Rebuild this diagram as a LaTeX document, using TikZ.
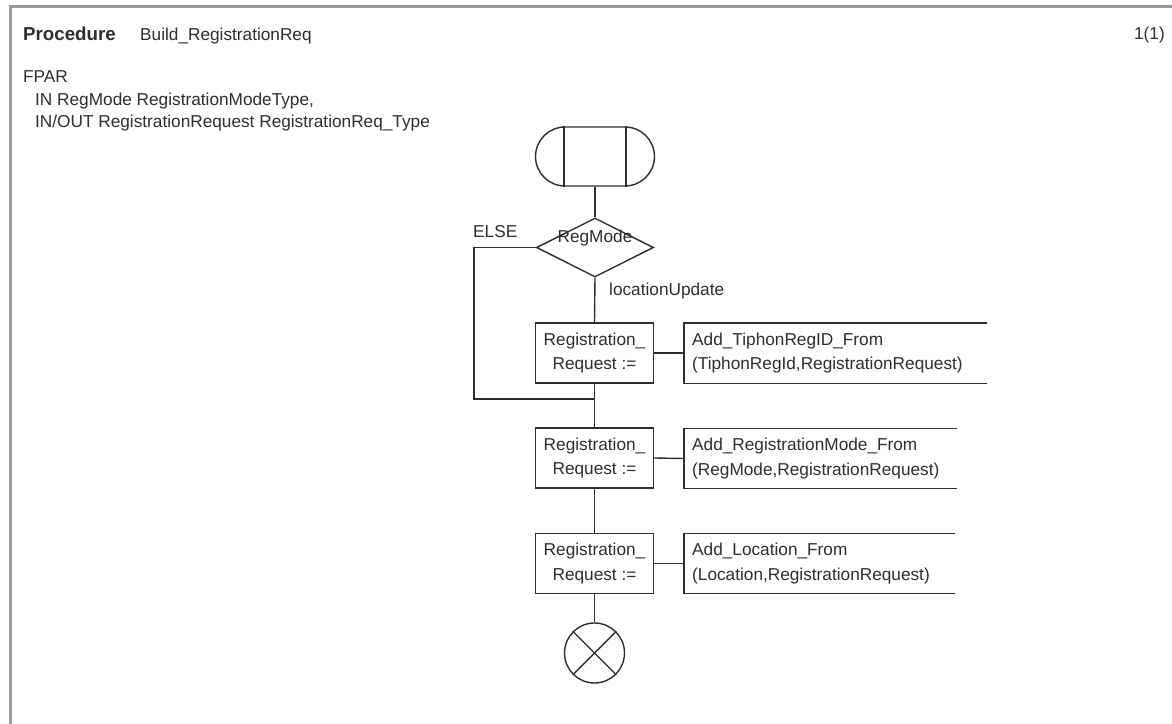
\documentclass[tikz,border=0pt]{standalone}
\usepackage{fontspec}
\setmainfont{Liberation Sans}
\usetikzlibrary{shapes.geometric,shapes.misc}
\definecolor{ink}{HTML}{2E2E2E}
\definecolor{frame}{HTML}{9A9A9A}
\tikzset{
  every node/.style={font=\fontsize{17.3}{25}\selectfont, text=ink},
  flow/.style={draw=ink, line width=1.4bp},
  txt/.style={inner sep=0pt, anchor=base west},
  taskbox/.style={flow, rectangle, minimum width=118bp, minimum height=60bp,
    inner sep=0pt, align=center},
  note/.style={rectangle, anchor=west, inner xsep=8bp, inner ysep=0pt,
    minimum height=60bp, align=left},
  conn/.style={draw=ink, line width=1.4bp},
}
\begin{document}
\begin{tikzpicture}[x=1bp, y=-1bp]
\useasboundingbox (0,0) rectangle (1172,724);
\fill[white] (0,0) rectangle (1172,724);
\clip (0,0) rectangle (1172,724);

% page frame
\draw[frame, line width=3bp] (10,740) -- (10,7) -- (1190,7);

% heading
\node[txt, font=\fontsize{18.8}{22}\selectfont\bfseries] (kw) at (23,41) {Procedure};
\node[txt] (pname) at (140,41) {Build\_RegistrationReq};
\node[txt, anchor=base east] (page) at (1165,40) {1(1)};
\node[txt] (fpar) at (23,83) {FPAR};
\node[txt] (p1) at (35,106) {IN RegMode RegistrationModeType,};
\node[txt] (p2) at (35,128) {IN/OUT RegistrationRequest RegistrationReq\_Type};

% procedure start
\node[flow, rounded rectangle, minimum width=119bp, minimum height=59bp, inner sep=0pt] (start) at (595,156.5) {};
\draw[conn] ([xshift=-31bp]start.north) -- ([xshift=-31bp]start.south);
\draw[conn] ([xshift=31bp]start.north) -- ([xshift=31bp]start.south);

% decision
\node[flow, diamond, aspect=2, minimum width=117bp, minimum height=59bp, inner sep=0pt] (dec) at (595,247.5) {};
\node[inner sep=0pt] (declbl) at (595,238) {RegMode};
\node[txt] (elselbl) at (473,237) {ELSE};
\node[txt] (lulbl) at (609,295) {locationUpdate};

% tasks
\node[taskbox] (b1) at (594.5,353) {Registration\_\\Request :=};
\node[taskbox] (b2) at (594.5,458) {Registration\_\\Request :=};
\node[taskbox] (b3) at (594.5,563.5) {Registration\_\\Request :=};

% comment notes
\node[note, text width=287bp] (c1) at (684,353) {Add\_TiphonRegID\_From\\(TiphonRegId,RegistrationRequest)};
\node[note, text width=257bp] (c2) at (684,458.5) {Add\_RegistrationMode\_From\\(RegMode,RegistrationRequest)};
\node[note, text width=255bp] (c3) at (684,563.5) {Add\_Location\_From\\(Location,RegistrationRequest)};
\foreach \c in {c1,c2,c3}
  \draw[conn] (\c.north east) -- (\c.north west) -- (\c.south west) -- (\c.south east);

% procedure return
\node[flow, circle, minimum size=60bp, inner sep=0pt] (stop) at (594.5,653) {};
\draw[conn] (stop.north west) -- (stop.south east);
\draw[conn] (stop.north east) -- (stop.south west);

% flow lines
\coordinate (join) at (594.5,399);
\coordinate (elseturn) at (474,399);
\draw[conn] (start.south) -- (dec.north);
\draw[conn] (dec.south) -- (b1.north);
\draw[conn] (b1.south) -- (b2.north);
\draw[conn] (dec.west) -| (elseturn) -- (join);
\draw[conn] (b2.south) -- (b3.north);
\draw[conn] (b3.south) -- (stop.north);
\draw[conn] (b1.east) -- (c1.west);
\draw[conn] (b2.east) -- (c2.west);
\draw[conn] (b3.east) -- (c3.west);
\end{tikzpicture}
\end{document}
